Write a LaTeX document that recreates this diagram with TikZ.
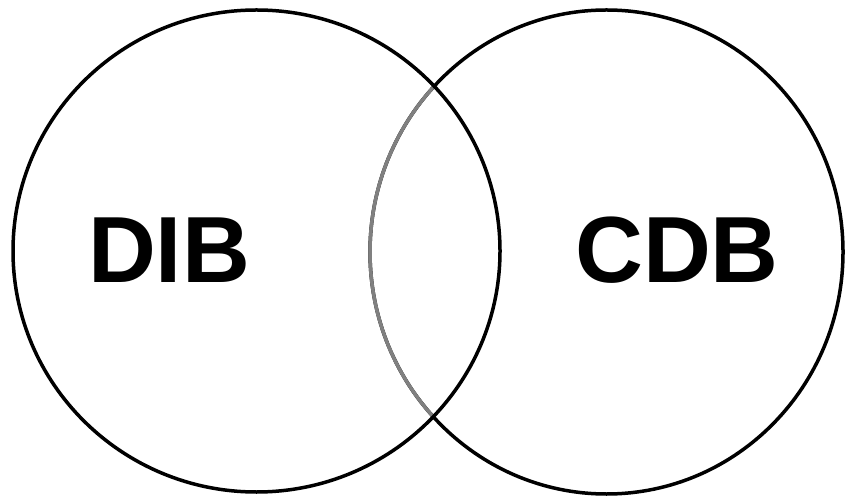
\documentclass[tikz,border=0pt]{standalone}
\usepackage{fontspec}
\setmainfont{Liberation Sans}
\begin{document}
\begin{tikzpicture}[x=1pt,y=1pt,
  ring/.style={line width=3.5pt,draw=black},
  label/.style={font=\fontsize{94}{94}\selectfont\bfseries,inner sep=0pt}]
\useasboundingbox (0,0) rectangle (845,498);
% right set (black), its part inside the left set drawn in grey
\draw[ring] (606.5,246) ellipse [x radius=236.5, y radius=242];
\begin{scope}
  \clip (256.5,247) ellipse [x radius=243.5, y radius=241];
  \draw[line width=3.5pt,draw=gray] (606.5,246) ellipse [x radius=236.5, y radius=242];
\end{scope}
% left set
\draw[ring] (256.5,247) ellipse [x radius=243.5, y radius=241];
\node[label] (dib) at (169,248) {DIB};
\node[label] (cdb) at (677,248) {CDB};
\end{tikzpicture}
\end{document}
